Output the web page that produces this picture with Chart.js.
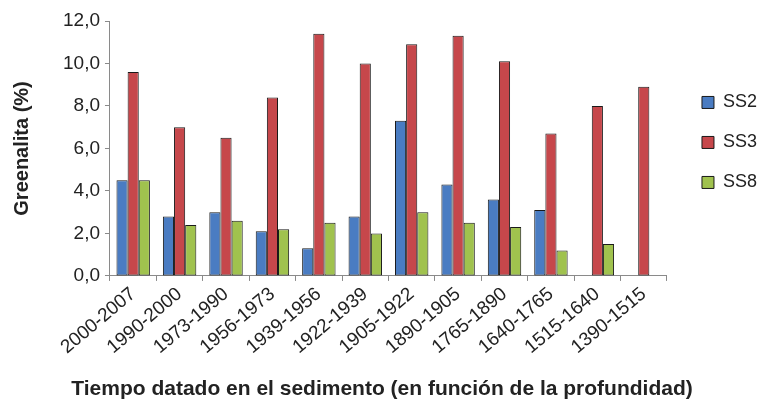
<!DOCTYPE html>
<html>
<head>
<meta charset="utf-8">
<script src="https://cdn.jsdelivr.net/npm/chart.js@4/dist/chart.umd.min.js"></script>
<style>
    html, body { margin: 0; padding: 0; background: #fff; overflow: hidden; }
    #wrap { width: 761px; height: 402px; }
</style>
</head>
<body>
<div id="wrap"><canvas id="greenalitaChart" width="761" height="402"></canvas></div>
<script>
const periods = ['2000-2007', '1990-2000', '1973-1990', '1956-1973', '1939-1956', '1922-1939',
    '1905-1922', '1890-1905', '1765-1890', '1640-1765', '1515-1640', '1390-1515'];
const ss2 = [4.5, 2.8, 3.0, 2.1, 1.3, 2.8, 7.3, 4.3, 3.6, 3.1, null, null];
const ss3 = [9.6, 7.0, 6.5, 8.4, 11.4, 10.0, 10.9, 11.3, 10.1, 6.7, 8.0, 8.9];
const ss8 = [4.5, 2.4, 2.6, 2.2, 2.5, 2.0, 3.0, 2.5, 2.3, 1.2, 1.5, null];
const yMax = 12;
const yStep = 2;

const font = "'Liberation Sans', Arial, sans-serif";
const textColor = '#222';
const axisColor = '#8a8a8a';

// mover la leyenda (derecha y arriba) sin tocar el area del grafico
const legendShift = {
    id: 'legendShift',
    afterLayout(chart) {
        chart.legend.left += 13;
        chart.legend.right += 13;
        chart.legend.top -= 6;
        chart.legend.bottom -= 6;
    }
};

function makeSet(label, values, color) {
    return {
        label: label,
        data: values,
        backgroundColor: color,
        borderColor: '#1a1a1a',
        borderWidth: 1,
        borderSkipped: false,
        categoryPercentage: 0.72,
        barPercentage: 1.0
    };
}

new Chart(document.getElementById('greenalitaChart'), {
    type: 'bar',
    data: {
        labels: periods,
        datasets: [
            makeSet('SS2', ss2, '#4a7cc2'),
            makeSet('SS3', ss3, '#c6474b'),
            makeSet('SS8', ss8, '#a0c24e')
        ]
    },
    options: {
        responsive: false,
        animation: false,
        layout: { padding: { top: 21, left: 10, right: 7, bottom: 0 } },
        scales: {
            x: {
                offset: true,
                grid: {
                    offset: true,
                    drawOnChartArea: false,
                    drawTicks: true,
                    tickLength: 5,
                    color: axisColor
                },
                border: { color: axisColor, width: 1 },
                ticks: {
                    color: textColor,
                    font: { family: font, size: 19 },
                    minRotation: 40,
                    maxRotation: 40,
                    padding: 2,
                    autoSkip: false
                }
            },
            y: {
                min: 0,
                max: yMax,
                grid: {
                    drawOnChartArea: false,
                    drawTicks: true,
                    tickLength: 5,
                    color: axisColor
                },
                border: { color: axisColor, width: 1 },
                ticks: {
                    stepSize: yStep,
                    color: textColor,
                    font: { family: font, size: 19 },
                    padding: 5,
                    callback: function(v) { return v.toFixed(1).replace('.', ','); }
                },
                title: {
                    display: true,
                    text: 'Greenalita (%)',
                    color: textColor,
                    font: { family: font, size: 20, weight: 'bold' },
                    padding: { top: 0, bottom: 24 }
                }
            }
        },
        plugins: {
            legend: {
                position: 'right',
                align: 'center',
                fullSize: false,
                maxWidth: 96,
                labels: {
                    color: textColor,
                    font: { family: font, size: 18 },
                    boxWidth: 12,
                    boxHeight: 12,
                    padding: 22
                }
            },
            title: {
                display: true,
                position: 'bottom',
                text: 'Tiempo datado en el sedimento (en función de la profundidad)',
                color: textColor,
                font: { family: font, size: 21, weight: 'bold' },
                padding: { top: 16, bottom: 0 }
            },
            tooltip: { enabled: false }
        }
    },
    plugins: [legendShift]
});
</script>
</body>
</html>
